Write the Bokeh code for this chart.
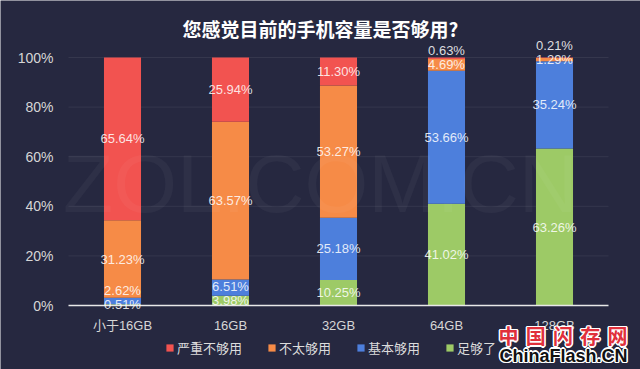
from bokeh.plotting import figure
from bokeh.models import ColumnDataSource, Legend, LegendItem, Label, Range1d
from bokeh.core.properties import value
from bokeh.embed import file_html
from bokeh.resources import INLINE

# ---- data ----
title_text = "您感觉目前的手机容量是否够用?"
categories = ["小于16GB", "16GB", "32GB", "64GB", "128GB"]
series_names = ["严重不够用", "不太够用", "基本够用", "足够了"]
severe = [65.64, 25.94, 11.30, 0.63, 0.21]      # 严重不够用
not_quite = [31.23, 63.57, 53.27, 4.69, 1.29]   # 不太够用
basic = [2.62, 6.51, 25.18, 53.66, 35.24]       # 基本够用
enough = [0.51, 3.98, 10.25, 41.02, 63.26]      # 足够了
y_ticks = [0, 20, 40, 60, 80, 100]
y_tick_labels = ["0%", "20%", "40%", "60%", "80%", "100%"]

colors = {"严重不够用": "#f25350", "不太够用": "#f68b47", "基本够用": "#4d7fdc", "足够了": "#9dca66"}
BG = "#262840"
FONT = "Liberation Sans, Noto Sans CJK SC"
CJK = "Noto Sans CJK SC"

W, H = 640, 369
# plot geometry (pixels): frame of the chart area inside the canvas
X0, X1 = 68, 608          # left / right of category band
Y0, PX_PER_PCT = 305, 2.48
n = len(categories)
unit = (X1 - X0) / n
x_range = Range1d(-X0 / unit, n + (W - X1) / unit)
y_range = Range1d(-(H - Y0) / PX_PER_PCT, Y0 / PX_PER_PCT)

p = figure(x_range=x_range, y_range=y_range, width=W, height=H,
           output_backend="svg", toolbar_location=None,
           x_axis_location=None, y_axis_location=None,
           background_fill_color=BG, border_fill_color=BG, outline_line_color=None,
           min_border=0)
p.grid.visible = False

xpos = [i + 0.5 for i in range(n)]
stack_keys = ["enough", "basic", "not_quite", "severe"]  # bottom -> top
stack_names = ["足够了", "基本够用", "不太够用", "严重不够用"]
src = ColumnDataSource(dict(x=xpos, cat=categories, enough=enough, basic=basic,
                            not_quite=not_quite, severe=severe))

# grid lines
p.segment(x0=[0] * (len(y_ticks) - 1), x1=[n] * (len(y_ticks) - 1), y0=y_ticks[1:], y1=y_ticks[1:],
          line_color="#ffffff", line_alpha=0.07, line_width=1)

# watermark
p.add_layout(Label(x=(320 - X0) / unit, y=(Y0 - 183) / PX_PER_PCT, text="ZOL.COM.CN",
                   text_align="center", text_baseline="middle",
                   text_font=FONT, text_font_size="82px", text_color="#ffffff", text_alpha=0.04))

rs = p.vbar_stack(stack_keys, x="x", width=0.343, source=src,
                  color=[colors[s] for s in stack_names], line_color=None)

# axis line
p.segment(x0=[0], x1=[n], y0=[0], y1=[0], line_color="#e8e8e8", line_width=1.5)

# value labels (centers, nudged upward to avoid overlap)
lx, ly, lt = [], [], []
series_vals = [enough, basic, not_quite, severe]
for i in range(n):
    base = 0.0
    last = -100.0
    for vals in series_vals:
        v = vals[i]
        cy = max(base + v / 2.0, last + 5.8)
        last = cy
        base += v
        lx.append(xpos[i])
        ly.append(cy)
        lt.append("%.2f%%" % v)
p.text(x="x", y="y", text="t", source=ColumnDataSource(dict(x=lx, y=ly, t=lt)),
       text_align="center", text_baseline="middle",
       text_font=value(FONT), text_font_size="13px", text_color="#ffffff", text_alpha=0.85)

# y tick labels
p.text(x=[(53 - X0) / unit] * len(y_ticks), y=y_ticks, text=y_tick_labels,
       text_align="right", text_baseline="middle",
       text_font=value(FONT), text_font_size="14px", text_color="#d6d6d6")

# category labels
p.text(x=xpos, y=[-(325 - Y0) / PX_PER_PCT] * n, text=categories,
       text_align="center", text_baseline="middle",
       text_font=value(FONT), text_font_size="13px", text_color="#d6d6d6")

# legend
items = [LegendItem(label=s, renderers=[rs[stack_names.index(s)]]) for s in series_names]
legend = Legend(items=items, orientation="horizontal", location=(165, 12),
                label_text_font=CJK, label_text_font_size="13px", label_text_color="#dcdcdc",
                glyph_width=9, glyph_height=9, label_standoff=3, spacing=25,
                background_fill_alpha=0, border_line_alpha=0, padding=0, margin=0,
                label_height=16)
p.add_layout(legend, "center")

# title
p.add_layout(Label(x=320, y=H - 27.5, x_units="screen", y_units="screen", text=title_text,
                   text_align="center", text_baseline="middle", text_font=CJK,
                   text_font_size="19px", text_font_style="bold", text_color="#ffffff"))

# logo watermark (white outline simulated with offset copies)
logo_chars = "中国闪存网"
offs = [(-1.5, 0), (1.5, 0), (0, -1.5), (0, 1.5), (-1, -1), (1, 1), (-1, 1), (1, -1)]
for k, ch in enumerate(logo_chars):
    cx = 508 + k * 27.25
    for dx, dy in offs:
        p.add_layout(Label(x=cx, y=H - 335, x_units="screen", y_units="screen", text=ch,
                           x_offset=dx, y_offset=dy, text_align="center", text_baseline="middle",
                           text_font=CJK, text_font_size="20px", text_font_style="bold",
                           text_color="#ffffff"))
    p.add_layout(Label(x=cx, y=H - 335, x_units="screen", y_units="screen", text=ch,
                       text_align="center", text_baseline="middle",
                       text_font=CJK, text_font_size="20px", text_font_style="bold",
                       text_color="#e0303c"))
for dx, dy in offs:
    p.add_layout(Label(x=563, y=H - 355, x_units="screen", y_units="screen", text="ChinaFlash.CN",
                       x_offset=dx, y_offset=dy, text_align="center", text_baseline="middle",
                       text_font="Liberation Sans", text_font_size="18px", text_font_style="bold",
                       text_color="#ffffff"))
p.add_layout(Label(x=563, y=H - 355, x_units="screen", y_units="screen", text="ChinaFlash.CN",
                   text_align="center", text_baseline="middle",
                   text_font="Liberation Sans", text_font_size="18px", text_font_style="bold",
                   text_color="#111111"))

open("out.html", "w").write(file_html(p, INLINE))
